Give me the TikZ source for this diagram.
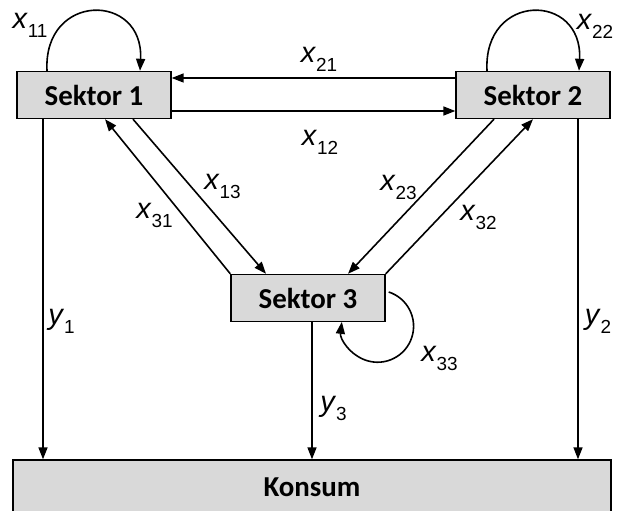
\documentclass[tikz,border=0pt]{standalone}
\usepackage{fontspec}
\setmainfont{Liberation Sans}
\newfontfamily\boxfont{Carlito}
\usetikzlibrary{arrows.meta,calc}
\newcommand\lab[2]{\fontsize{29}{29}\selectfont\textit{#1}\raisebox{-9bp}{\fontsize{19}{19}\selectfont #2}}
\begin{document}
\begin{tikzpicture}[x=1bp,y=-1bp,
  sektor/.style={draw=black,line width=1.4bp,fill=black!15,rectangle,inner sep=0pt,
    minimum width=154bp,minimum height=47bp,font=\boxfont\bfseries\fontsize{29}{29}\selectfont},
  flow/.style={line width=1.6bp,-{Triangle[length=12bp,width=9bp]}},
  lbl/.style={inner sep=0pt,anchor=center}]
\useasboundingbox (0,0) rectangle (623,511);
\node[sektor] (s1) at (94,95) {Sektor 1};
\node[sektor] (s2) at (533,95) {Sektor 2};
\node[sektor] (s3) at (308,298) {Sektor 3};
\node[sektor,minimum width=598bp,minimum height=54bp] (k) at (312,487) {Konsum};
% horizontal flows
\draw[flow] ($(s2.west)+(0,-17)$) -- ($(s1.east)+(0,-17)$);
\draw[flow] ($(s1.east)+(0,16)$) -- ($(s2.west)+(0,16)$);
% diagonals
\draw[flow] ($(s1.south)+(39,0)$) -- ($(s3.north)+(-42,0)$);
\draw[flow] (s3.north west) -- ($(s1.south)+(11,0)$);
\draw[flow] ($(s2.south)+(-39,0)$) -- ($(s3.north)+(40,0)$);
\draw[flow] (s3.north east) -- ($(s2.south)+(0,0)$);
% to Konsum
\coordinate (a1) at ($(s1.south)+(-51,0)$);
\coordinate (a2) at ($(s2.south)+(45,0)$);
\coordinate (a3) at ($(s3.south)+(4,0)$);
\draw[flow] (a1) -- (a1 |- k.north);
\draw[flow] (a2) -- (a2 |- k.north);
\draw[flow] (a3) -- (a3 |- k.north);
% loops
\draw[flow] ($(s1.north)+(-47,0)$) .. controls (43,-8) and (144,-8) .. ($(s1.north)+(46,0)$);
\draw[flow] ($(s2.north)+(-46,0)$) .. controls (483,-8) and (583,-8) .. ($(s2.north)+(46,0)$);
\draw[flow] ($(s3.east)+(3,-6)$) arc[start angle=-72,end angle=187,radius=36];
% labels
\node[lbl] (l11) at (30,25.5) {\lab{x}{11}};
\node[lbl] (l22) at (595,26.5) {\lab{x}{22}};
\node[lbl] (l21) at (319,59) {\lab{x}{21}};
\node[lbl] (l12) at (320,142) {\lab{x}{12}};
\node[lbl] (l13) at (222.5,186.5) {\lab{x}{13}};
\node[lbl] (l31) at (154.5,215.5) {\lab{x}{31}};
\node[lbl] (l23) at (398.5,187.5) {\lab{x}{23}};
\node[lbl] (l32) at (478.5,217.5) {\lab{x}{32}};
\node[lbl] (l33) at (439.5,358.5) {\lab{x}{33}};
\node[lbl] (ly1) at (61.5,321.5) {\lab{y}{1}};
\node[lbl] (ly2) at (598,321.5) {\lab{y}{2}};
\node[lbl] (ly3) at (333.5,408.5) {\lab{y}{3}};
\end{tikzpicture}
\end{document}
